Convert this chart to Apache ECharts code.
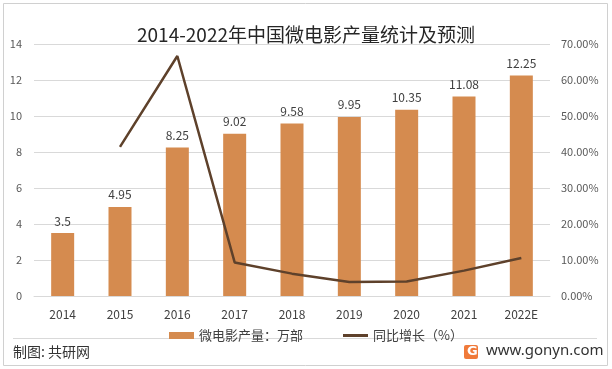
<!DOCTYPE html>
<html>
<head>
<meta charset="utf-8">
<script src="https://cdn.jsdelivr.net/npm/echarts@6/dist/echarts.min.js"></script>
<style>
html,body{margin:0;padding:0;background:#fff;}
#c{width:612px;height:369px;}
</style>
</head>
<body>
<div id="c"></div>
<script>
var categories = ['2014','2015','2016','2017','2018','2019','2020','2021','2022E'];
var outputValues = [3.5, 4.95, 8.25, 9.02, 9.58, 9.95, 10.35, 11.08, 12.25];
var growthValues = [null, 41.43, 66.67, 9.33, 6.21, 3.86, 4.02, 7.05, 10.56];
var leftTicks = {min: 0, max: 14, interval: 2};
var rightTicks = {min: 0, max: 70, interval: 10};
var barName = '微电影产量：万部';
var lineName = '同比增长（%）';

var FONT = '"Noto Sans CJK SC","Noto Sans",sans-serif';
var chart = echarts.init(document.getElementById('c'), null, {renderer: 'canvas'});
chart.setOption({
  animation: false,
  backgroundColor: '#fff',
  textStyle: {fontFamily: FONT},
  title: {
    text: '2014-2022年中国微电影产量统计及预测',
    left: 'center',
    top: 20,
    textStyle: {fontSize: 19, fontWeight: 'normal', color: '#262626', fontFamily: FONT}
  },
  legend: {
    left: 164,
    top: 324,
    itemWidth: 25,
    itemHeight: 7,
    itemGap: 40,
    textStyle: {fontSize: 13, color: '#404040', fontFamily: FONT},
    data: [
      {name: barName, icon: 'rect'},
      {name: lineName, icon: 'path://M0,0L25,0L25,3L0,3Z'}
    ]
  },
  grid: {left: 34, right: 62, top: 44, bottom: 73},
  xAxis: {
    type: 'category',
    data: categories,
    axisTick: {show: false},
    axisLine: {lineStyle: {color: '#d9d9d9'}},
    axisLabel: {fontSize: 12, color: '#404040', margin: 12}
  },
  yAxis: [
    {
      type: 'value', min: leftTicks.min, max: leftTicks.max, interval: leftTicks.interval,
      axisLabel: {fontSize: 11, color: '#595959', margin: 12},
      splitLine: {lineStyle: {color: '#d9d9d9'}},
      axisLine: {show: false}, axisTick: {show: false}
    },
    {
      type: 'value', min: rightTicks.min, max: rightTicks.max, interval: rightTicks.interval,
      axisLabel: {fontSize: 11, color: '#595959', margin: 11, formatter: function(v){return v.toFixed(2)+'%';}},
      splitLine: {show: false},
      axisLine: {show: false}, axisTick: {show: false}
    }
  ],
  series: [
    {
      name: barName,
      type: 'bar',
      data: outputValues,
      barWidth: 23,
      itemStyle: {color: '#D58B4F'},
      label: {show: true, position: 'top', distance: 6, fontSize: 12, color: '#404040'}
    },
    {
      name: lineName,
      type: 'line',
      yAxisIndex: 1,
      data: growthValues,
      symbol: 'none',
      lineStyle: {color: '#5E412B', width: 2.5},
      itemStyle: {color: '#5E412B'}
    }
  ],
  graphic: [
    {type: 'rect', shape: {x: 3.5, y: 3.5, width: 604, height: 362}, style: {fill: 'none', stroke: '#d0d0d0', lineWidth: 1}, z: -1},
    {type: 'line', shape: {x1: 13, y1: 338.5, x2: 597, y2: 338.5}, style: {stroke: '#d9d9d9', lineWidth: 1}},
    {type: 'text', left: 13, top: 345, style: {text: '制图: 共研网', fontSize: 14, fill: '#333', fontFamily: FONT}},
    {type: 'rect', shape: {x: 464, y: 345, width: 14, height: 14, r: 2}, style: {fill: '#F07A3A'}},
    {type: 'text', left: 467, top: 345, style: {text: 'G', fontSize: 13, fontWeight: 'bold', fill: '#fff', fontFamily: 'DejaVu Sans'}},
    {type: 'text', left: 486, top: 343, style: {text: 'www.gonyn.com', fontSize: 15, fill: '#333', fontFamily: '"Noto Sans",sans-serif'}}
  ]
});
</script>
</body>
</html>
